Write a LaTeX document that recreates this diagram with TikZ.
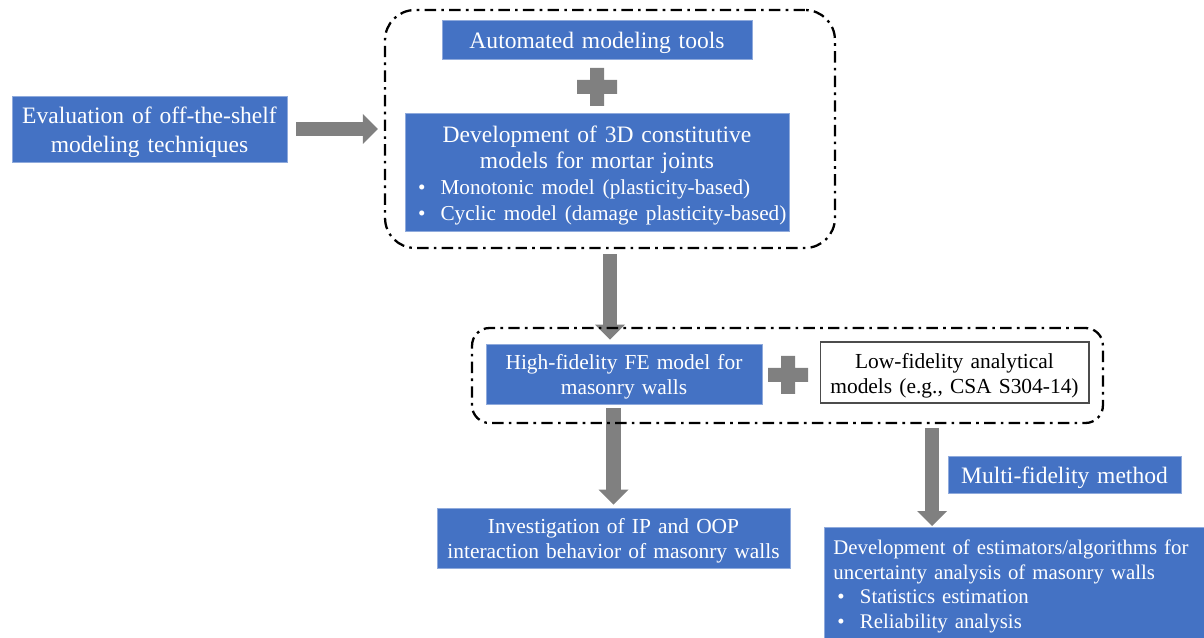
\documentclass[tikz,border=0pt]{standalone}
\usepackage{fontspec}
\setmainfont{Liberation Serif}
\usetikzlibrary{arrows.meta,positioning,calc,backgrounds}

\definecolor{boxblue}{RGB}{68,114,196}
\definecolor{edgeblue}{RGB}{143,170,220}
\definecolor{arrgray}{RGB}{128,128,128}

\newcommand{\bulletline}[3]{\makebox[#1][l]{\hspace{#2}\makebox[0.45cm][l]{\textbullet}#3}}

\begin{document}
\begin{tikzpicture}[
  x=0.02cm,y=-0.02cm,
  bluebox/.style={fill=boxblue, draw=edgeblue, line width=0.5pt, text=white, inner sep=0pt, align=center},
  whitebox/.style={fill=white, draw=black!70, line width=0.6pt, inner sep=0pt, align=center},
  boxdim/.style 2 args={minimum width=#1, text width=#1, minimum height=#2},
  textdown/.style={execute at begin node={\rule{0pt}{#1}}},
  group/.style={draw, line width=1.3pt, dash pattern=on 6.5pt off 3pt on 1.5pt off 3pt, inner sep=0pt},
  bigfont/.style={font=\fontsize{13.4}{16.5}\selectfont, textdown=0.465cm},
  devfont/.style={font=\fontsize{13.4}{14.8}\selectfont, textdown=0.465cm},
  smallfont/.style={font=\fontsize{12.2}{14.2}\selectfont, textdown=0.43cm},
  bigarr/.style={-{Triangle[width=0.6cm,length=0.3cm,line width=0pt]}, draw=arrgray, line width=0.29cm},
  plussign/.pic={\fill[arrgray] (-20,-7) rectangle (20,7) (-7,-19) rectangle (7,19);}
]
\useasboundingbox (0,0) rectangle (1204,638);

\node[group, rounded corners=0.6cm, minimum width=9cm, minimum height=4.76cm] (box1) at (610,129) {};
\node[group, rounded corners=0.35cm, minimum width=12.62cm, minimum height=1.9cm] (box2) at (787.5,375.5) {};

\node[bluebox, bigfont, boxdim={5.5cm}{1.32cm}] (eval) at (149.5,129) {Evaluation of off-the-shelf\\modeling techniques};
\node[bluebox, bigfont, boxdim={6.2cm}{0.78cm}] (auto) at (597,39.5) {Automated modeling tools};
\pic at (597,87) {plussign};
\node[bluebox, devfont, text width=7.28cm, minimum width=7.68cm, minimum height=2.36cm] (dev) at (597,172) {Development of 3D constitutive\\models for mortar joints\\
  {\fontsize{12.1}{14.8}\selectfont\bulletline{7.28cm}{0.06cm}{Monotonic model (plasticity-based)}}\\
  {\fontsize{12.1}{14.8}\selectfont\bulletline{7.28cm}{0.06cm}{Cyclic model (damage plasticity-based)}}};

\node[bluebox, smallfont, boxdim={5.52cm}{1.2cm}] (hf) at (624,374) {High-fidelity FE model for\\masonry walls};
\pic at (788,375) {plussign};
\node[whitebox, smallfont, boxdim={5.38cm}{1.22cm}] (lf) at (954.5,372.5) {Low-fidelity analytical\\models (e.g., CSA S304-14)};

\node[bluebox, smallfont, boxdim={7.06cm}{1.2cm}] (ip) at (613.5,538) {Investigation of IP and OOP\\interaction behavior of masonry walls};
\node[bluebox, bigfont, textdown=0.4cm, boxdim={4.66cm}{0.74cm}] (mf) at (1064.5,474.5) {Multi-fidelity method};
\node[bluebox, font=\fontsize{11.85}{14.2}\selectfont, anchor=north west, align=left, text width=7.64cm, inner xsep=0.18cm, inner ysep=0.24cm] (ua) at (824,527) {Development of estimators/algorithms for\\uncertainty analysis of masonry walls\\
  \bulletline{7.64cm}{0.08cm}{Statistics estimation}\\
  \bulletline{7.64cm}{0.08cm}{Reliability analysis}};

\coordinate (split) at (932,423);

\begin{scope}[on background layer]
\draw[bigarr, shorten <=0.18cm, shorten >=0.12cm] (eval.east) -- (box1.west);
\draw[bigarr, shorten <=0.1cm, shorten >=0.08cm] (box1.south) -- (box1.south |- hf.north);
\draw[bigarr, shorten <=0.08cm, shorten >=0.06cm] (ip.north |- hf.south) -- (ip.north);
\draw[bigarr, shorten <=0.1cm, shorten >=0.02cm] (split) -- (split |- ua.north);
\end{scope}
\end{tikzpicture}
\end{document}
